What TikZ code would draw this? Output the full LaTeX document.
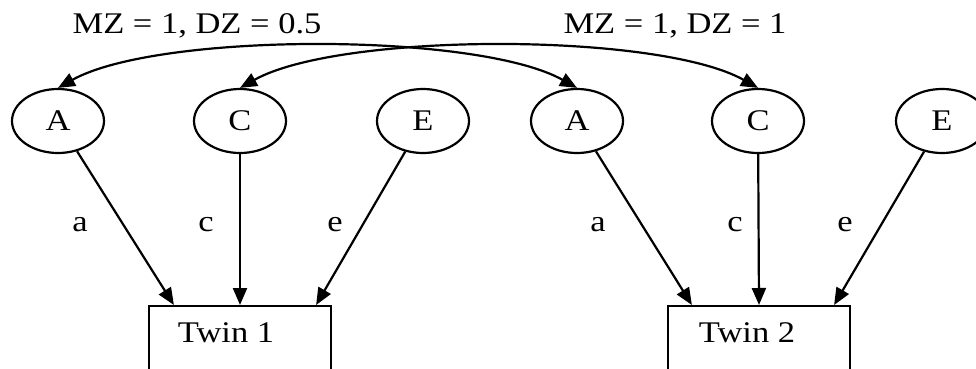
\documentclass[tikz,border=0pt]{standalone}
\usepackage{fontspec}
\setmainfont[FakeStretch=1.15]{Liberation Serif}
\usetikzlibrary{arrows.meta,shapes.geometric,calc}
\tikzset{
  lat/.style={draw,ellipse,line width=2.2pt,minimum width=92pt,minimum height=64pt,inner sep=0pt,font=\fontsize{30}{30}\selectfont},
  obs/.style={draw,rectangle,line width=2.2pt,minimum width=182pt,minimum height=130pt,anchor=north},
  txt/.style={font=\fontsize{30}{30}\selectfont,inner sep=0pt},
  path/.style={line width=2.2pt,-{Triangle[length=17pt,width=14pt]}},
  cov/.style={line width=2.2pt,{Triangle[length=17pt,width=14pt]}-{Triangle[length=17pt,width=14pt]}},
}
\begin{document}
\begin{tikzpicture}[x=1pt,y=-1pt]
\useasboundingbox (0,0) rectangle (976,369);
\begin{scope}
\clip (0,0) rectangle (976,369);
% latent variables
\node[lat] (A1) at (58,121) {A};
\node[lat] (C1) at (240,121) {C};
\node[lat] (E1) at (423,121) {E};
\node[lat] (A2) at (577,121) {A};
\node[lat] (C2) at (758,121) {C};
\node[lat] (E2) at (942,121) {E};
% observed boxes
\node[obs] (T1) at (240,305) {};
\node[obs] (T2) at (759,305) {};
\node[txt] (T1l) at (226,333) {Twin 1};
\node[txt] (T2l) at (747,333) {Twin 2};
% target points on box tops
\coordinate (t1a) at ($(T1.north west)+(26,0)$);
\coordinate (t1c) at (T1.north);
\coordinate (t1e) at ($(T1.north east)+(-16,0)$);
\coordinate (t2a) at ($(T2.north west)+(25,0)$);
\coordinate (t2c) at (T2.north);
\coordinate (t2e) at ($(T2.north east)+(-17,0)$);
% paths
\draw[path] (A1) -- (t1a);
\draw[path] (C1) -- (t1c);
\draw[path] (E1) -- (t1e);
\draw[path] (A2) -- (t2a);
\draw[path] (C2) -- (t2c);
\draw[path] (E2) -- (t2e);
% path labels
\node[txt] (la1) at (80,225) {a};
\node[txt] (lc1) at (206,225) {c};
\node[txt] (le1) at (335,225) {e};
\node[txt] (la2) at (598,225) {a};
\node[txt] (lc2) at (735,225) {c};
\node[txt] (le2) at (845,225) {e};
% covariances
\draw[cov] (A1.north) .. controls (158,32) and (477,32) .. (A2.north);
\draw[cov] (C1.north) .. controls (340,32) and (658,32) .. (C2.north);
\node[txt] (mz1) at (197,26) {MZ = 1, DZ = 0.5};
\node[txt] (mz2) at (675,26) {MZ = 1, DZ = 1};
\end{scope}
\end{tikzpicture}
\end{document}
